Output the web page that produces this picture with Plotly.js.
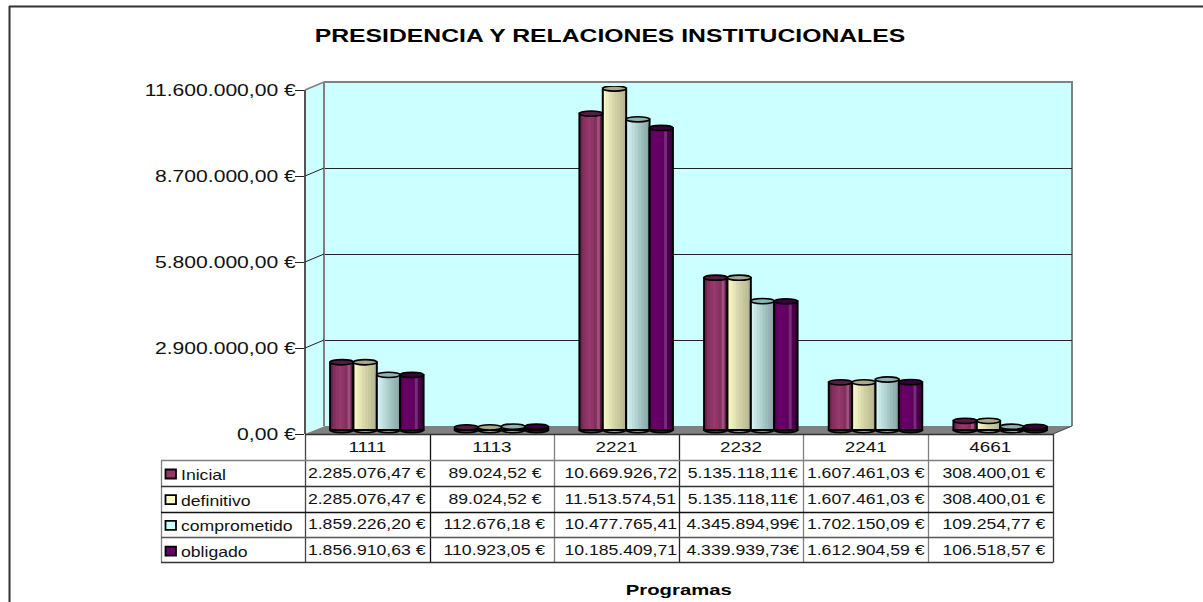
<!DOCTYPE html>
<html><head><meta charset="utf-8">
<script src="https://cdn.plot.ly/plotly-3.0.1.min.js"></script>
<style>html,body{margin:0;padding:0;background:#fff}#c{width:1203px;height:602px}</style>
</head><body><div id="c"></div>
<script>
const categories = ['1111','1113','2221','2232','2241','4661'];
const seriesNames = ['Inicial','definitivo','comprometido','obligado'];
const inicial = [2285076.47, 89024.52, 10669926.72, 5135118.11, 1607461.03, 308400.01];
const definitivo = [2285076.47, 89024.52, 11513574.51, 5135118.11, 1607461.03, 308400.01];
const comprometido = [1859226.20, 112676.18, 10477765.41, 4345894.99, 1702150.09, 109254.77];
const obligado = [1856910.63, 110923.05, 10185409.71, 4339939.73, 1612904.59, 106518.57];
const yTickVals = [0, 2900000, 5800000, 8700000, 11600000];
const yTickText = ['0,00 €','2.900.000,00 €','5.800.000,00 €','8.700.000,00 €','11.600.000,00 €'];
const cellSuffix = [' €',' €','','€',' €',' €'];
const swatchColors = ['#993366','#ffffcc','#ccffff','#660066'];
const capColors = ['#571c42','#a9a98a','#8fb3b3','#3a003a'];
const shades = [
 ['#6e2450','#84305f','#8e3566','#96396c','#8e3566','#84305f','#a0507c','#5e1f45'],
 ['#f7f7c8','#eeeebd','#e3e3b4','#d8d8ac','#cfcfa4','#c8c89f','#c0c098','#b5b58f'],
 ['#d5f2f2','#c6e6e6','#bcdcdc','#b0d2d2','#a6c6c6','#9cbcbc','#93b2b2','#8aa8a8'],
 ['#5a005a','#660066','#660066','#640064','#5e005e','#7a2a7a','#4a004a','#3c003c']
];
const allSeries = [inicial, definitivo, comprometido, obligado];

const W = 1203, H = 602;
const fx = p => p / W, fy = p => 1 - p / H;
const YMAX = 11600000;
const frontY = v => 434 - v / YMAX * 344;
const backY = v => 426 - v / YMAX * 344;

const fmt = v => {
  const [a, b] = v.toFixed(2).split('.');
  return a.replace(/\B(?=(\d{3})+$)/g, '.') + ',' + b;
};

const traces = [];
traces.push({type:'scatter', mode:'none', x:categories, y:inicial, xaxis:'x', yaxis:'y', showlegend:false, hoverinfo:'skip'});
traces.push({type:'scatter', mode:'none', x:categories, y:inicial, xaxis:'x2', yaxis:'y2', showlegend:false, hoverinfo:'skip'});

const barW = 0.1875, groupStart = -0.375;
const shapes = [];
const pline = (x0,y0,x1,y1,color,width,layer) => shapes.push({type:'line',xref:'paper',yref:'paper',x0:fx(x0),y0:fy(y0),x1:fx(x1),y1:fy(y1),line:{color,width},layer:layer||'below'});
const poly = (pts,fill) => shapes.push({type:'path',xref:'paper',yref:'paper',layer:'below',fillcolor:fill,line:{width:0},
  path:pts.map((p,i)=>(i?'L':'M')+fx(p[0])+','+fy(p[1])).join(' ')+' Z'});

pline(9.5,6,9.5,602,'#333',2);
pline(9,6.5,1203,6.5,'#333',2);
poly([[325,82],[1072,82],[1072,426],[325,426]],'#ccffff');
poly([[305,90],[325,82],[325,426],[305,434]],'#ccffff');
poly([[305,434],[325,426],[1072,426],[1053,434]],'#808080');
pline(324,82,1072,82,'#808080',2);
pline(324,82,324,426,'#808080',2);
pline(1072,81,1072,426,'#808080',2);
pline(305,90,324,82,'#808080',1.5);
pline(305,90,305,434,'#555',2);
yTickVals.slice(1,-1).forEach(v => pline(305,frontY(v),324,backY(v),'#222',1));

const colX = [305,429.6,554.2,678.8,803.4,928,1052.6];
const colColor = ['#444','#111','#808080','#222','#808080','#808080','#333'];
const rowY = [434,460,486,512,537,562];
const rowColor = ['#333','#808080','#333','#111','#555','#333'];
colX.forEach((x,i)=>pline(Math.round(x)+.5,434,Math.round(x)+.5,562.5,colColor[i],1.3));
pline(161.5,460,161.5,562.5,'#808080',1.3);
rowY.forEach((y,i)=>pline(i?161:305,y+.5,1053,y+.5,rowColor[i],1.3));
pline(1053,434,1072,426,'#444',1);

const annotations = [];
allSeries.forEach((vals,s)=>{
  const N = shades[s].length, x0 = groupStart + s*barW;
  shades[s].forEach((col,j)=>{
    traces.push({type:'bar',x:categories,y:vals,xaxis:'x3',yaxis:'y3',offset:x0+j*barW/N,width:barW*(N-j)/N,
      marker:{color:col,line:{width:0}},showlegend:false,hoverinfo:'skip'});
  });
  traces.push({type:'bar',name:seriesNames[s],x:categories,y:vals,xaxis:'x3',yaxis:'y3',offset:x0,width:barW,
    marker:{color:'rgba(0,0,0,0)',line:{color:'#000',width:2}},showlegend:false,hoverinfo:'skip'});
  vals.forEach((v,i)=>{
    const base = {type:'circle',xref:'x3',yref:'y3',xsizemode:'scaled',ysizemode:'pixel',
      x0:i+x0,x1:i+x0+barW,y0:-2.6,y1:2.6,line:{color:'#000',width:1.6}};
    shapes.push(Object.assign({},base,{yanchor:0,fillcolor:shades[s][3],layer:'between'}));
    shapes.push(Object.assign({},base,{yanchor:v,fillcolor:capColors[s],layer:'above'}));
    annotations.push({xref:'x2',yref:'paper',x:i,y:fy(473+25.6*s),xshift:[0,3,4,2,0,4][i],
      text:fmt(v)+cellSuffix[i],showarrow:false,xanchor:'center',yanchor:'middle',align:'center',
      font:{family:'Liberation Sans, Arial',size:14,color:'#111'}});
  });
  const ry = 474+25.7*s;
  shapes.push({type:'rect',xref:'paper',yref:'paper',x0:fx(165.5),x1:fx(176),y0:fy(ry-4.5),y1:fy(ry+4.5),
    fillcolor:swatchColors[s],line:{color:'#000',width:1.8},layer:'below'});
  annotations.push({xref:'paper',yref:'paper',x:fx(179),y:fy(ry+1),text:seriesNames[s],showarrow:false,
    xanchor:'left',yanchor:'middle',align:'left',font:{family:'Liberation Sans, Arial',size:14,color:'#111'}});
});

const hiddenCat = {type:'category',range:[-0.5,5.5],showgrid:false,zeroline:false,showticklabels:false,ticks:'',showline:false,fixedrange:true};
const layout = {
  width:W,height:H,margin:{l:0,r:0,t:0,b:0},autosize:false,showlegend:false,
  paper_bgcolor:'#fff',plot_bgcolor:'rgba(0,0,0,0)',barmode:'overlay',
  font:{family:'Liberation Sans, Arial',color:'#111'},
  title:{text:'PRESIDENCIA Y RELACIONES INSTITUCIONALES',x:fx(610),xanchor:'center',y:fy(36),yanchor:'middle',
    font:{family:'Liberation Sans, Arial',size:18,weight:700,color:'#000'}},
  xaxis:Object.assign({},hiddenCat,{domain:[fx(325),fx(1072)],anchor:'y'}),
  yaxis:{domain:[fy(426),fy(82)],range:[0,YMAX],tickvals:yTickVals,showticklabels:false,ticks:'',showgrid:true,gridcolor:'#222',gridwidth:1,zeroline:false,anchor:'x',fixedrange:true},
  xaxis2:Object.assign({},hiddenCat,{domain:[fx(305),fx(1052.6)],anchor:'y2',showticklabels:true,ticklabelstandoff:3,tickfont:{size:14,color:'#111'},
    title:{text:'Programas',standoff:131,font:{size:14,weight:700,color:'#000'}}}),
  yaxis2:{domain:[fy(434),fy(90)],range:[0,YMAX],tickmode:'array',tickvals:yTickVals,ticktext:yTickText,ticks:'outside',ticklen:9,tickcolor:'#222',tickwidth:1,ticklabelstandoff:-4,
    tickfont:{size:16,color:'#111'},showgrid:false,zeroline:false,showline:false,anchor:'x2',fixedrange:true},
  xaxis3:Object.assign({},hiddenCat,{domain:[fx(314.5),fx(1062.5)],anchor:'y3'}),
  yaxis3:{domain:[fy(436),fy(86)],range:[-6/344*YMAX,YMAX],showticklabels:false,ticks:'',showgrid:false,zeroline:false,anchor:'x3',fixedrange:true},
  shapes,annotations
};

Plotly.newPlot('c',traces,layout,{staticPlot:true,displayModeBar:false}).then(gd=>{
  const stretch = (sel,k)=>gd.querySelectorAll(sel).forEach(t=>{
    const x = parseFloat(t.getAttribute('x'))||0, tr = t.getAttribute('transform')||'';
    t.setAttribute('transform',`${tr} translate(${x},0) scale(${k},1) translate(${-x},0)`);
  });
  stretch('.gtitle',1.375);
  stretch('.x2title',1.45);
  stretch('.x2tick text',1.35);
  stretch('.y2tick text',1.32);
  stretch('.annotation-text',1.26);
});
</script></body></html>
